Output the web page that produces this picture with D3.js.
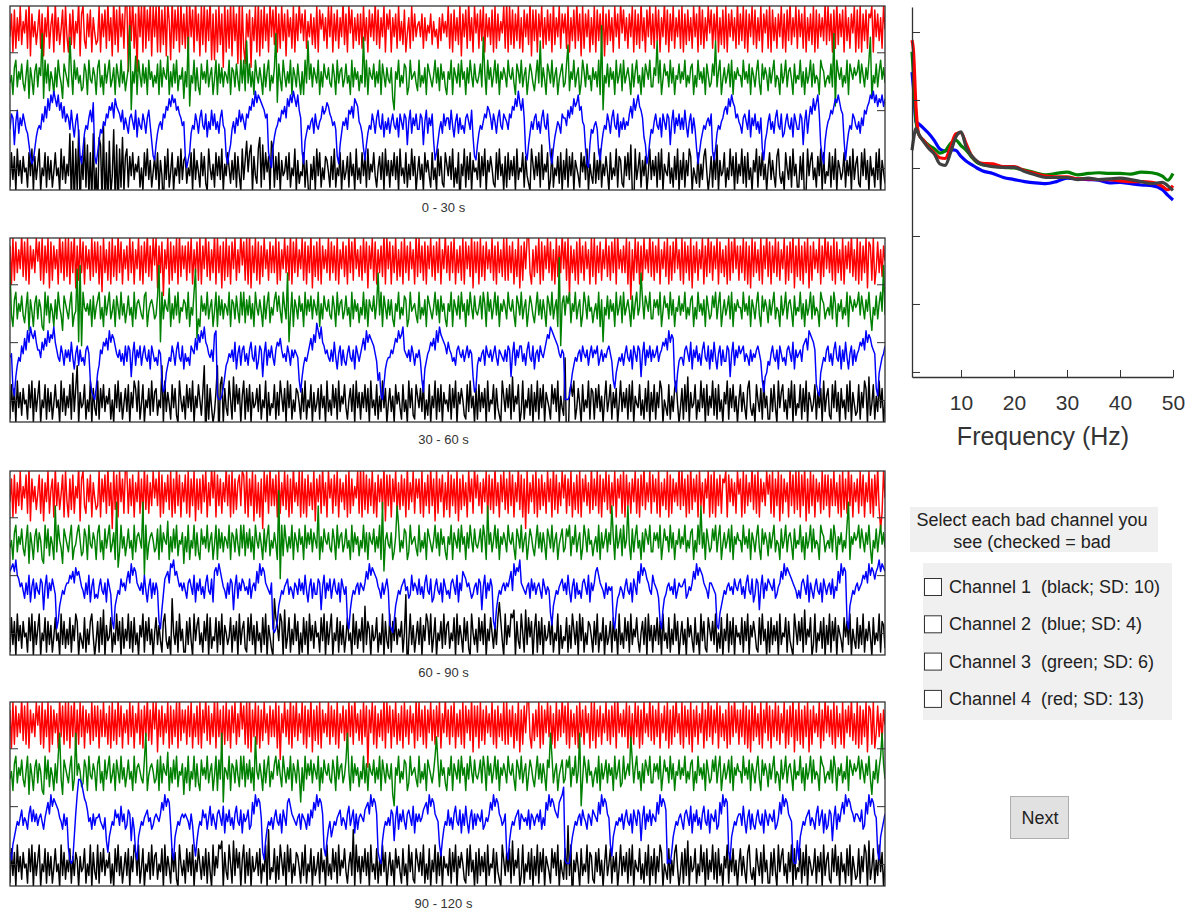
<!DOCTYPE html>
<html>
<head>
<meta charset="utf-8">
<script src="https://cdn.jsdelivr.net/npm/d3@7"></script>
<style>
body { margin: 0; background: #fff; font-family: Arial, "Liberation Sans", sans-serif; }
</style>
</head>
<body>
<script>
// traces: one letter per sample, 20 samples per second (one group = 1 s), 'm' = 0, each step = 3.3 uV
var red1 = "kqgrhpjsiolrhtfqkoim rhqfpkshnqgtjpimrgsk gqirholtfqsjhqkrgpli jsgqkrhtjpfuirgskqht tbsjuhqbtksgvhrjtfsk sgugrisftoeuhrjsgtiq hsftkrgujqfsitgrjueq ergsiqctgrhtfsjqducs hdqkrcpjsgtfrhsjqgtk ritgqhsjqfrkphsgqjtl qjrhokqiphsgrmqjphsk sgqjrhpktiqgslrhpjqi qhsjpgrkqjtirhpksgqm rgpkqhsjoirglphsjqkn okqhpjnlqiokmhpjqlok shqgrjpisfqkrhtjpgsl qhrjsgqkpirgshqjolsh tgsirhqjshpgrkqitfrj rgqkshpirjqgtipkshql qhsgpjrhtjqfshqkrgpi sgrjqhsfqirjpgskqhtl rjphqksgriqhtjpgrksi qhsjrgpktirgqjshpkrh sgqirjphskqgtirhpjsl rhqjsgpirhsgqkrjphti qjshrgqksirhpjsgqlrh sgrjphqkshqgrjtipksh rkqhsgpjqisgrhqkpjti sjqgrhtiqkrgsjphqlsg rhsgqjrhqpsgrkqjphsm";
var green1 = "kmhoqjnlpkimqgolhnpj omxgqkpinlhojqmkgpnl jwnhqlokmijpnhqlkomh oqjmhpknqjlohpmjqkni lozdnkrhqmjpkohqlnjm kphqjomlrhnjpkqimlog njwemkqiojhplnkqjmoh lqhpkojnmkqhonjpliqk qivkpjnhqmkolhpjnqim koxfpliqmjnkqhomjplh nhqkvlpjomkqhnjpmlok jpmhqknojlpkmhqjolni mkwjqhomlpjnkqhpmjol kogdnlqjmkpohjqlmnki qjmkohpnljmqkoiplnjh nlqhomkpjqlnhokqmjpl kmpjwnhqlojmqkphnlom jqmlokhpnkqjmohlpnki mqkvjolhpnkqjmohlnpj kpuinlqjmohkqnjplmio lnjqhzdmkpjolnhqkmpi qkmolhpjnqkmhojpnlqj jomvkqhlpmnjqkohmlpk nlqjmkophmjqlnkohpmj kpmvjnqhlokmpjqhnlom mjqlnkphomjnqkhplomi oknqjmlhpkmqjnolhpkm lqjnhokmqjpkmlhqonjl mkpjxeqnlojmkqhpnlom nqkpmjolqwgmkpjnqlok";
var blue1 = "kongmpjnlomkjgdbcfik lkomqnsptrusqtprnqmo nkplimojdbfjlknpmrdb ehkjmlonqprnsqpompkn ljnomkpinlkomjnplhdc gjlmkonqpsqtrspqonlm dacejlkomjnplkoimkpl okmjnplkdbegkmjnlpmo mkonqpsqurtsrqpnoeca fiklnmpoqnsqtrusqtpn ebhjlkmnjolkmnqoprqo nlmkdbgjmlnkpoqnsrqm ljfcgjlkomjnplkoimkn jmolkniomkongmpjnlok kongmpjnlohcehkmjoln nkplimojnkljnomkpidc gjlkmonqpnkomjnplkon mkonqpsqurpsnecgjmkn okmjnplkoidbfikmljon nlpnqosqrtpqmlfbagkj lmkecgjlkomjnplkoimk nkmloqnsprtqpnigbdhk jmolkniomkongmpjnlok nkplimojnkfbehjlkmnl oecfjlkmnpqosqtrqnom ljnomkpinlokmjnfchjm okmjnplkoijmolkniomk kongmpjnqosprtogdbhk mnpoqsrtrpohcgjlkonl kmjnlpoqrtsurtqsrtqs";
var black1 = "hqjpgrkoiplmhqkrgpjn rgmkqhpjohlqkmgrjpin kvdtcrgwbpjuhsfqdvem ausdxcqbtfkwdsbrhugp rhpkqjnlphmgqkrjohlp jqgokbpjrhlqgmkpirjo pimkqgrjolhqkpigrmjn hqkpjrgnkqmiojqhpkgr jotlqsgpkiruhsjqlpgt rhpjqgoklpjqhmkrgoil kqhoibnjpgrkqhmjpolh pjrhmkqgojlphqkngrjm iqkphrjnlqkhmpjqgrko hokqjpgrkmiqhnjrkpgl pjngqlokhqjmgrkpihqn kpjrhmiqcnkrhpjqgolm jqhpkrgolpmihqjrkngp hqjokpgrjmlqhpkigrnj pkqhsjnlqgjrhmkpiqgo jrhpkqgomkhqlpjrgnki qiojrhnkplgqjmkrhpoi hpkqjsgbrjmqhokpglrj okphqjrgnlkqimhpjrgo jqhokrpgmkiqhnjprlgk phqjsgoklqhmjrkpgqin kriphqjmgolrhpkqjngm qjokhprkilgqmjphrknh hpjqbgrkoqjmhpkrgqil kqhpjrgomjlqhokpgrjn pihqkrjogpkmhqjrgoli";

var red2 = "qgshrjpktirhsgqkpjsm rhsgqjsfrhqkpgtjrhsi sgrjtfqhsjrgqkphsirj rgqesjphrgsiqhtjrgpk qhsjrgpkshqgrjtiqhsl sfqjrdpksgrhqjsgtiqk qhrjsgpjrhsgqktirhpj tgsjqfrhsiqgrkshpjtl rhsgtfqjshrgqiskphrj qjsgrhpksjqhtgrjsipk shrgqjtfqirhsgqkpjsh rjqhsgpkriqgsjrhtkpi qhsjrfqkshrgpjqitgsk rgqjshpirgsjqhrkpgti sjqhrgqksiqhrjsgpktj qhrjsgpjqhsgrkqitfrj rgsiqhrkpjshqgrjpish shqjrgpisfqhrkstjgpi qjsgrhqksjrhpgsiqjtk rhsdqjphrgsjqhrkpgsi sgqjrhpksiqhrjsgtkpj qjsgrcphsjrgqhskpjti rhqjsgpkrisgqhrjtkph sgrjqhsfqjrhpksgqitj rhqksgrjpiqgshrjtkqh qjshrgqfsirjphsgqkti rgqjsirhpksgqhrjtfqi shqgrjsfqhrkpjsgqitk rjqhsgrjphsgqkrjtiph sgrhqjsfrqhsgkrjpiqm";
var green2 = "wkhoqjnlpkimqgolhnpj omhgqkpinlhojqmkgpnl jnqhklwdxcqmlnkohpjm oqjmhpknqjlohpmjqkni lpkmhqjnomkjpqhlnomj kpxdqjomlrhnjpkqimlo njqhmkqwejhplnkqjmoh lqhpkojnmkqhonjpliqk qiokpjnhqmkolhpjnqim koqlpliqmjvdkqhomjpl nhqkolpjomkqhnjpmlok jpmhqknojlpkmhqjolni mkqjohomlpjnvkqhpmjo kojhnlqjmkpohjqlmnki qjmkohpnljmqkoiplnjh nlqhomkpjqlnhokqmjpl kmpjqnhqlojmqkphnlom jqmlokhpnkqjmohlpnki mqkojolhpnkqjmohzcnp kpnqinlqjmohkqnjplmi lnjqhodmkpjolnhqkmpi qkmolhpjnqkmvojpnlqj jomokqhlpmnjqkohmlpk nlqjmkophmjqlnkohpmj kpmqjnqhlokmpjqhnlom mjqlnkphomjnqkhplomi oknqjmlhpkmqjnolhpkm lqjnhokmqjpkmlhqonjl mkpjqnhnlojmkqhpnlom nqkpmjolqkgmkpjnqlxk";
var blue2 = "lmdbgjlkomqnsptrqspn nlpnqosprqtpnlkomjnl nkplimojnkljnomfcbad hjnmpoqnsprqomlnkmjo kongmpjnlojmolkniomk ljnmfcdhjlkomjnplkoi mkljonmqnrpsqtpomlnk rsbaabdgjkmlnkpimojn okmjnplkoikongmpjnlo ljnpoqnlmkomjnlnmlfc gjlkmoqnrpusqtpomnlk nkplimojnkjmolkniomk moqnsprqpomkfhbaeikl lnmoqpsqrtnmlnkomjml nkfcikmnpoqnsptrqpom pnmkljnomlnkmolnmgcd jlkmnjomlnkmoljnmlkn kongmpjnlookmjnplkoi mnkomlnprqtsrqpomlnm aaabehjlkmnkomlnjmol nmojlnkmlnomkfdhjlkm jmolkniomkongmpjnlok nlmokmnpoqnsprqfchkl ljnomkpinlokmjnplkoi nkplimojnkkongmpjnlo mnokmljnkmlnomkfcghk jmolkniomkljnomkpinl mnkopqnsrqpnecbhjlkn okmjnplkoinkplimojnk mnpoqnsprqonmdbhjlmo";
var black2 = "hqjpgrkoiplmhqkrgpjn rgmkqhpjohlqkmgrjpin kqhtjpvgoklqhmjrgpki rhpkqjnlphmgqkrjohlp jqgokrpjrhlqgmkpirjo pimkvgrjolhqkpigrmjn hqkpjrgnkqmiovbqhpkg jovbqsgpkirmhsjqlpgn rhpjqgoklpjqhmkrgoil kqhoirnjpgrkqhmjpolh pjrhmkqgojlphqkngrjm iqkphrjnlqkhmpjqgrko hokqjpgrkmiqhnjrkpgl pjngqlokhqjmgrkpihqn kpjrhmiqgnkrhpjqgolm jqhpkrgolpmihqjrkngp hqjokpgrjmlqhpkigrnj pkqhsjnlqgjrhmkpiqgo jrhpkqgomkhqlpjrgnki xaaoqnrhkplgqjmkrhpo hpkqjngmrjmqhokpglrj okphqjrgnlkqimhpjrgo jqhokrpgmkiqhnjprlgk phqjsgoklqhmjrkpgqin kriphqjmgolrhpkqjngm qjokhprkilgqmjphrknh hpjqkgrkoqjmhpkrgqil kqhpjrgomjlqhokpgrjn pihqkrjogpkmhqjrgoli jqhokrpgsilqhnjrkpgm";

var red3 = "kqgrhpjsiolrhtfqkoim rhqfpkshnqgtjpimrgsk gqirholtfqsjhqkrgpli jsgqkrhtjpdsirgskqht shqjrgpkshqgtirhpjsl qjsgrhpkrisgqhtjrgpk rhsgqjsfqiqhrksgpjtl sgrjqhpktjrgshqiprjs rhsgqjsfrhpgqdskrhtj qjrgshpjsirgqhtkpjsg shqgrjpisfqkrhtjpgsl qhrjsgqkpirgshqjolsh tgsirhqjshpgrkqitfrj rgqkshpirjqgtipkshql qhsgpjrhtjqfshqkrgpi sgrjqhsfqirjpgskqhtl rjphqksgriqhtjpgrksi qhsjrgpktirgqdshpkrh sgqirjphskqgtirhpjsl rhqjsgpirhsgqkrjphti qjshrgqksirhpjsgqlrh sgrjphqkshqgrjtipksh rkqhsgpjqisgrhqkpjti sjqgrhtiqkrgsjphqlsg rhsgqjrhqpsgrkqjphsm qgshrjpktirhsgqkpjsm rhsgqjsfrhqkpgtjrhsi sgrjtfqhsjrgqkphsirj rgqjsjphrgsiqhtjrgpk qhsjrgpkshqgrjtidhsl";
var green3 = "kmhoqjnlpkimqgolhnpj omhgqkpinlhvjqmkgpnl jnqhkloqmijpnhqlkomh oqjmhpknqjlohwfjqkni lpkmhqjnomkwdqhlnomj kphqjomlrhnjpkqimlog njqhmkqiojhplnkqjmoh lqhpkojnmkqhonjpliqk qiokpjnhqmkolhpjnqim kolhzcqiqmjnkqhomjpl nhqkolpjomkvhnjpmlok jpmhqknojlpkmhqjolni mkqjohomlpjnkqhwemol kohjnvqjmkpohjqlmnki qjmkohpnljmqkoiplnjh nlqhomkpjqlnhokqmjpl kmpjqnhvlojmqkphnlom jqmlokhpnkqjmohlpnki mqkojolhpnkqjmohlnpj kpnqinlqjmohkqnjplmi lnjqhokmpjolvnhqkmpi qkmvlhpjnqkmhojpnlqj jomokqhlpmnjqkohmlpk nlqjmkophmjqlvkohpmj kpmqjnqhlokmpjqhnlom mjqlnkphomjnqkhplomi oknqjmlhpkmqjnolhpkm lqjnhokmqjpkmlhqonjl mkpjqnhnlojmkqwhnlom nqkpmjolqkgmkpjnqlok";
var blue3 = "qrsqtpomnljnkpimojnl kongmpjnlomkbdhjlkmn npoqnrpqomljnkpimojk jmolkniomkdbhjlkomnl oqnsprqnmlnkplimojnk nldbgkopqnsrtpqomnln ljnomkpinlokmjnplkoi qrpsqomljnkongmpjnlo nlmkojmnlqnsprqnmlkn babdhjlkmnokmljnmkol nkplimojnkkongmpjnlo jmolkniomkmdbgjlkmnk nmlnqosprqpomljnkmol cbadhjlkmnolmjkplnmk okmjnplkoijmolkniomk ljnomkpinlqpomnljkmn kongmpjnlomdbgjlkmnl nmoqlsprqtnmlkmnjoln kmnljomkmlfchjlkmnol nkplimojnkljnomkpinl nqrpnmljnkmlmdbgjkml jmolkniomkqnsprqonlk pnmljdbgjkmnlmkojlnm mnojkmlnqosprqpnmljn nmlkcbfhjlkmnlmkomln okmjnplkoikongmpjnlo nmlojkmnqosprqponmlj ljnomkpinljmolkniomk mnkojmlqnsprqdbhjlkm nlmnpoqnsprqoqrtqsrq";
var black3 = "hqjpgrkoiplmhqkrgpjn rgmkqhpjohlqkmgrjpin jqhokrpgmkiqhnjprlgk phqjsgoklqhmjrkpgqin kriphqjmgolrhpkqjngm qjokhprkilgvmjphrknh hpjqkgrkoqjmhpkrgqil kqhpjrgomjlqhokpgrjn pihqkrjogpkmhqjrgoli gvqokrpgsilqhnjrkpgm hqjpgrkoiplmhqkrgpjn rgmkqhpjohlqkmgrjpin kqhtjpngoklqhmjrgpki rhpkqjnlphmwbkrjohlp jqgokrpjrhlqgmkpirjo pimkqgrjolhqkpigrmjn hqkpjrgnkqmiojqupkgr jolrqsgpkirmhsjqlpgn rhpjqgoklpjqhmkrgoil kqhoirnjpgrkqhmjpolh pjrhmkqgojlphqkngrjm iqkphrjnlqkhmpjqgrko hokqjpgrkmiqhnjrkpgl pjngqlokhqjmgrkpihqn kpjrhmiqgnkrhpjqgolm jqhpkrgolpmihqjrkngp hqjokpgrjmlqhpkigrnj pkqhsjnlqgjrhmkpiqgo jrhpkqgomkhqlpjrgnki qiojrhnkplgqjmkrhpoi";

var red4 = "qgshrjpktirhsgqkpjsm rhsgqjsfrhqkpgtjrhsi sgrjtfqhsjrgqkphsirj rgqjsjphrgsiqhtjrgpk qhsjrgpkshqgrjtiqhsl sfqjrhpksgrhqjsgtiqk qhrjsgpjrhsgqktirhpj tgsjqfrhsiqgrkshpjtl rhsgtfqjshrgqiskphrj qjsgrdpksjqhtgrjsipk shrgqjtfqirhsgqkpjsh rjqhsgpkriqgsjrhtkpi qhsjrbqkshrgpjqitgsk rgqjshpirgsjqhrkpgti sjqhrgqksiqhrjsgpktj qhrjsgpjqhsgrkqitfrj rgsiqhrkpjshqgrjpish shqjrgpisfqhrkstjgpi qjsgrhqksjrhpgsiqjtk rhsgqjphrgsjqhrkpgsi sgqjrhpksiqhrjsgtkpj qjsgrhphsjrgqhskpjti rhqjsgpkrisgqhrjtkph sgrjqhsfqjrhpksgqitj rhqksgrjpiqgshrjtkqh qjshrgqfsirjphsgqkti rgqjsirhpksgqhrjtfqi shqgrjsfqhrkpjsgqitk rjqhsgrjphsgqkrjtiph sgrhqjsfrqhsgkrjpiqm";
var green4 = "kmhoqjnlpkimqgolhnpj omhgqkpinlhojqwkgpnl jnqhkwlomijpnhqlkomh oqjmhpknqjlohpmjqkni lpkmhqjnomkjpwhlnomj kphqjomlrhnjpkqimlog njqhmkqiojhplnkqjmoh lqhpkwenmkqhonjpliqk qiokpjnhvmkolhpjnqim koqlpliqmjnkqhomjple nhqkolpjomkqhnjpmlok jpmhqknojlpwmhqjolni mkqjohomlpjnkqhpmjol kogdnlqjmkpohjqlmnki qjmkohpnljmqvoiplnjh nlqhomkpjqlnhokqmjpl kmpjqnhqlojmqkphnlom jqmlokhpnkqjmohlpnki mqkojolhpnwqjmohlnpj kpnqinlqjmwdkqnjplmi lnjqhokmpjolnhqkmpij qkmolvpjnqkmhojpnlqj jomokqhlpmnjqkohmlpk nlqjmkophmjqlnkohpmj kpmqjnqhlokmpjqhnlom mjqlnkphomjnqkhplomi oknqjmlhpkmqjnolhpkm lqjnhokmqjpkmlhqonjl mkpjqnhnlojmkqhpnlom nqkpmjolqkgmkpjnqwok";
var blue4 = "dbfhjlkmokmljnplolnk mnljmoqnsprqpomljnkm ebabhnswwvtrqolmjnkm mnlkjmgdhjlkomnkplnj kongmjdbhjlkmnolmjkm nmlnqosprqkdbhjlkmnm nmljnkfcgjlkomnjmpkn ljnomkpinlokmjnplkoi nlmojkqnsprqmdbgjlkm jmolkniomkqrpnmlkmnj nmljnkomqosprqnecgjl hjlkmnokmljnpkmoinjm nmlopqnsprqndbagjlkm kongmpjnloljnomkpinl nlmopqnsprqnmlfcgjlk okmjnplkoinkplimojnk nmlojkmlnqosprqnmkln dbgjlkmnojnmlmkojnmk mnlojmkqosprqonmqrsu baaaehjlkmnkomljnmko nmlqnsprqnmfchjlkmln jmolkniomkongmpjnlok nmlqnsprqoabadhjlkmn ljnomkpinlokmjnplkoi nmlojkqnsprqdbhjlkmn nkplimojnkjmolkniomk nmlojkmqnsprqnmlbaag bhjlkmnokmljnpkmoinj kongmpjnloqnsprqonln nmlojkqnsprqnmdbhjln";
var black4 = "hqjpgrkoiplmhqkrgpjn rgmkqhpjohlqkmgrjpin kqhojpngoklqhmjrgpki rhpkqjnlphmgqkrjohlp jqgokrpjrhlqgmkpirjo pimkqgrjolhqkpigrmjn hqkpjrgnkqmiojqhpkgr jolrqsgpkirmhsjqlpgn rhpjqgoklpjqhmkrgvil kqhoirnjpgrkqhmjpolh pjrhmkqgojlphqkngrjm iqkphrjnlqkhmpjvgrko hokqjpgrkmiqhnjrkpgl pjngqlokhqjmgrkpihqn kpjrhmiqgnkrhpjqgolm jqhpkrgolpmihqjrkngp hqjokpgrjmlqhpkigrnj pkqhsjnlqgjrhmkpiqgo jrhpkqgomkhqlpjrgnki qiwjrbnkplgqjmkrhpoi hpkqjngmrjmqhokpglrj okphqjrgnlkqimhpjrgo jqhokrpgmkiqhnjprlgk phqjsgoklqhmjrkpgqin kriphqjmgolrhpkqjngm qjokhprkilgqmjphrknh hpjqkgrkoqjmhpkrgqil kqhpjrgomjlqhokpgrjn pihqkrjogpkmhqjrgoli jqhokrpgsilqhnjrkpgm";

var windows = ["0 - 30 s", "30 - 60 s", "60 - 90 s", "90 - 120 s"];
var channelColors = ["#ff0000", "#008000", "#0000ff", "#000000"];
var channelOffsets = [120, 80, 40, 0];
var traces = [
    [red1, green1, blue1, black1],
    [red2, green2, blue2, black2],
    [red3, green3, blue3, black3],
    [red4, green4, blue4, black4]
];

// power spectrum (log power) per channel
var freqs = [0.75, 1, 1.5, 2, 3, 4, 5, 6, 7, 8, 9, 10, 11, 12, 13, 14, 16, 18, 20, 22, 24, 26, 28, 30, 32, 34, 36, 38, 40, 42, 44, 46, 48, 49, 50];
var psdRed   = [4.88, 4.75, 3.9, 3.5, 3.4, 3.3, 3.22, 3.15, 3.14, 3.3, 3.5, 3.52, 3.35, 3.18, 3.1, 3.07, 3.06, 3.02, 3.02, 2.96, 2.92, 2.88, 2.87, 2.87, 2.84, 2.84, 2.83, 2.83, 2.81, 2.8, 2.8, 2.79, 2.73, 2.68, 2.74];
var psdGreen = [4.71, 4.4, 3.7, 3.5, 3.4, 3.33, 3.28, 3.22, 3.25, 3.36, 3.41, 3.33, 3.26, 3.16, 3.08, 3.05, 3.03, 3.01, 3.0, 2.97, 2.93, 2.9, 2.92, 2.94, 2.9, 2.92, 2.93, 2.92, 2.92, 2.91, 2.94, 2.93, 2.88, 2.82, 2.92];
var psdBlue  = [4.41, 4.2, 3.68, 3.65, 3.58, 3.5, 3.4, 3.28, 3.25, 3.27, 3.26, 3.17, 3.1, 3.05, 3.0, 2.96, 2.92, 2.86, 2.83, 2.8, 2.78, 2.77, 2.8, 2.85, 2.84, 2.83, 2.82, 2.78, 2.79, 2.77, 2.75, 2.74, 2.68, 2.6, 2.53];
var psdGray  = [3.26, 3.4, 3.58, 3.5, 3.38, 3.28, 3.2, 3.06, 3.04, 3.22, 3.45, 3.53, 3.3, 3.18, 3.1, 3.05, 3.02, 3.01, 3.01, 2.95, 2.9, 2.86, 2.86, 2.86, 2.83, 2.85, 2.83, 2.84, 2.85, 2.83, 2.8, 2.77, 2.79, 2.74, 2.67];
var psdColors = ["#0000ff", "#008000", "#ff0000", "#404040"];

var channelLabels = ["Channel 1  (black; SD: 10)", "Channel 2  (blue; SD: 4)", "Channel 3  (green; SD: 6)", "Channel 4  (red; SD: 13)"];

function decode(s) {
    return s.replace(/\s/g, "").split("").map(function(c) { return (c.charCodeAt(0) - 109) * 3.3; });
}

var svg = d3.select("body").append("svg")
    .attr("width", 1194)
    .attr("height", 912);

// ---- trace panels
var panelLeft = 10, panelWidth = 875, panelHeight = 184;
var panelTops = [6, 238, 471, 702];

panelTops.forEach(function(top, p) {
    var g = svg.append("g").attr("transform", "translate(" + panelLeft + "," + top + ")");
    var x = d3.scaleLinear().domain([0, 30]).range([0, panelWidth]);
    var y = d3.scaleLinear().domain([-19, 140]).range([panelHeight, 0]);

    g.append("clipPath").attr("id", "clip" + p)
        .append("rect").attr("width", panelWidth).attr("height", panelHeight);

    var lines = g.append("g").attr("clip-path", "url(#clip" + p + ")");
    [0, 1, 3, 2].forEach(function(c) {
        var vals = decode(traces[p][c]);
        var n = vals.length;
        var line = d3.line()
            .x(function(d, i) { return x(i * 30 / (n - 1)); })
            .y(function(d) { return y(d + channelOffsets[c]); });
        lines.append("path")
            .datum(vals)
            .attr("d", line)
            .attr("fill", "none")
            .attr("stroke", channelColors[c])
            .attr("stroke-width", 1.45)
            .attr("stroke-linejoin", "round");
    });

    g.append("g").call(d3.axisRight(y).tickValues([0, 50, 100]).tickSize(8).tickFormat(""))
        .call(function(a) { a.select(".domain").remove(); a.selectAll("line").attr("stroke", "#333"); });
    g.append("g").attr("transform", "translate(" + panelWidth + ",0)")
        .call(d3.axisLeft(y).tickValues([0, 50, 100]).tickSize(8).tickFormat(""))
        .call(function(a) { a.select(".domain").remove(); a.selectAll("line").attr("stroke", "#333"); });

    g.append("rect")
        .attr("width", panelWidth).attr("height", panelHeight)
        .attr("fill", "none").attr("stroke", "#333").attr("stroke-width", 1.3);

    g.append("text")
        .attr("x", panelWidth / 2 - 4).attr("y", panelHeight + 22)
        .attr("text-anchor", "middle")
        .attr("font-size", 13).attr("fill", "#333")
        .text(windows[p]);
});

// ---- spectrum
var sx = d3.scaleLinear().domain([0.75, 50]).range([912, 1173]);
var sy = d3.scaleLinear().domain([-0.074, 5.368]).range([377, 7]);
var spec = svg.append("g");

var psdLine = d3.line()
    .x(function(d, i) { return sx(freqs[i]); })
    .y(function(d) { return sy(d); })
    .curve(d3.curveMonotoneX);

[psdBlue, psdGreen, psdRed, psdGray].forEach(function(arr, i) {
    spec.append("path")
        .datum(arr)
        .attr("d", psdLine)
        .attr("fill", "none")
        .attr("stroke", psdColors[i])
        .attr("stroke-width", 3.2)
        .attr("stroke-linejoin", "round");
});

spec.append("g").attr("transform", "translate(0,377)")
    .call(d3.axisBottom(sx).tickValues([10, 20, 30, 40, 50]).tickSizeInner(-7).tickSizeOuter(0).tickPadding(18))
    .call(function(a) {
        a.select(".domain").attr("stroke", "#333").attr("stroke-width", 1.3);
        a.selectAll("line").attr("stroke", "#333");
        a.selectAll("text").attr("font-size", 21).attr("fill", "#333").attr("font-family", "Arial, 'Liberation Sans', sans-serif");
    });
spec.append("g").attr("transform", "translate(912,0)")
    .call(d3.axisRight(sy).tickValues([0, 1, 2, 3, 4, 5]).tickSizeInner(8).tickSizeOuter(0).tickFormat(""))
    .call(function(a) {
        a.select(".domain").attr("stroke", "#333").attr("stroke-width", 1.3);
        a.selectAll("line").attr("stroke", "#333");
    });

spec.append("text")
    .attr("x", 1043).attr("y", 445)
    .attr("text-anchor", "middle")
    .attr("font-size", 25).attr("fill", "#333")
    .text("Frequency (Hz)");

// ---- channel selection box
var side = svg.append("g").attr("font-size", 18).attr("fill", "#222");
side.append("rect").attr("x", 910).attr("y", 507).attr("width", 248).attr("height", 45).attr("fill", "#f0f0f0");
side.append("text").attr("x", 1032).attr("y", 526).attr("text-anchor", "middle").text("Select each bad channel you");
side.append("text").attr("x", 1032).attr("y", 548).attr("text-anchor", "middle").text("see (checked = bad");

side.append("rect").attr("x", 923).attr("y", 563).attr("width", 249).attr("height", 157).attr("fill", "#f0f0f0");
var rows = side.selectAll("g.row").data(channelLabels).enter().append("g")
    .attr("class", "row")
    .attr("transform", function(d, i) { return "translate(0," + (587 + i * 37.3) + ")"; });
rows.append("rect")
    .attr("x", 924.5).attr("y", -8.5).attr("width", 17).attr("height", 17)
    .attr("fill", "#fff").attr("stroke", "#333").attr("stroke-width", 1);
rows.append("text")
    .attr("x", 949).attr("y", 6)
    .style("white-space", "pre")
    .text(function(d) { return d; });

// ---- next button
svg.append("rect").attr("x", 1010.5).attr("y", 796.5).attr("width", 58).attr("height", 42)
    .attr("fill", "#e1e1e1").attr("stroke", "#adadad");
svg.append("text").attr("x", 1040).attr("y", 824).attr("text-anchor", "middle")
    .attr("font-size", 18).attr("fill", "#222").text("Next");
</script>
</body>
</html>
